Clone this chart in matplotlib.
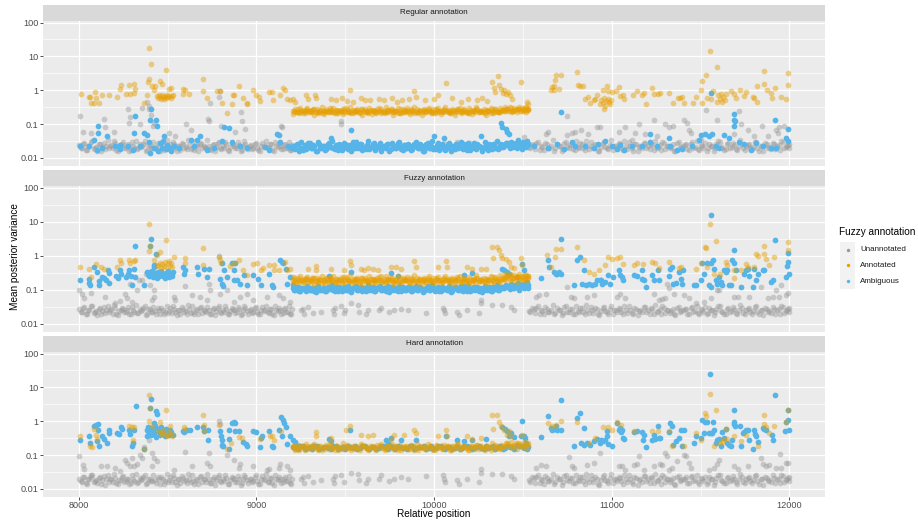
import matplotlib.pyplot as plt
from matplotlib.patches import Rectangle
from matplotlib.ticker import FixedLocator, NullFormatter

plt.rcParams['font.family'] = ['Liberation Sans', 'DejaVu Sans']

# --- sites shared by the three facets ---
left_sites = [8003, 8018, 8031, 8047, 8060, 8076, 8089, 8104, 8118, 8133,
              8146, 8162, 8177, 8190, 8206, 8219, 8235, 8248, 8263, 8277,
              8292, 8305, 8321, 8334, 8350, 8363, 8378, 8392, 8407, 8420,
              8436, 8449, 8465, 8478, 8494, 8507, 8522, 8536, 8551, 8564,
              8580, 8593, 8609, 8622, 8638, 8651, 8666, 8680, 8695, 8708,
              8724, 8737, 8753, 8766, 8781, 8795, 8810, 8823, 8839, 8852,
              8868, 8881, 8896, 8910, 8925, 8938, 8954, 8967, 8983, 8996,
              9011, 9025, 9040, 9053, 9069, 9082, 9097, 9111, 9126, 9139,
              9155, 9168, 9184, 9197]
left_sites_b = [8010, 8025, 8039, 8054, 8068, 8083, 8097, 8111, 8125, 8140,
                8154, 8169, 8183, 8198, 8212, 8227, 8241, 8256, 8270, 8285,
                8298, 8313, 8327, 8342, 8356, 8371, 8385, 8400, 8414, 8428,
                8443, 8457, 8471, 8486, 8500, 8515, 8529, 8544, 8558, 8572,
                8587, 8601, 8615, 8630, 8644, 8659, 8673, 8688, 8702, 8716,
                8730, 8745, 8759, 8774, 8788, 8803, 8817, 8831, 8846, 8860,
                8874, 8889, 8903, 8918, 8932, 8946, 8961, 8975, 8990, 9004,
                9018, 9033, 9047, 9062, 9076, 9090, 9104, 9119, 9133, 9148,
                9162, 9176, 9191, 9200]
mid_sites = [9206, 9219, 9233, 9245, 9259, 9273, 9286, 9299, 9313, 9326,
             9340, 9353, 9366, 9380, 9393, 9407, 9420, 9433, 9447, 9460,
             9474, 9487, 9500, 9514, 9527, 9541, 9554, 9567, 9581, 9594,
             9608, 9621, 9634, 9648, 9661, 9675, 9688, 9701, 9715, 9728,
             9742, 9755, 9768, 9782, 9795, 9809, 9822, 9835, 9849, 9862,
             9876, 9889, 9902, 9916, 9929, 9943, 9956, 9969, 9983, 9996,
             10010, 10023, 10036, 10050, 10063, 10077, 10090, 10103, 10117, 10130,
             10144, 10157, 10170, 10184, 10197, 10211, 10224, 10237, 10251, 10264,
             10278, 10291, 10304, 10318, 10331, 10345, 10358, 10371, 10385, 10398,
             10412, 10425, 10438, 10452, 10465, 10479, 10492, 10505, 10519, 10530]
mid_sites_b = [9212, 9226, 9239, 9252, 9266, 9279, 9292, 9306, 9319, 9333,
               9346, 9360, 9373, 9386, 9400, 9413, 9427, 9440, 9453, 9467,
               9480, 9494, 9507, 9520, 9534, 9547, 9561, 9574, 9587, 9601,
               9614, 9628, 9641, 9654, 9668, 9681, 9695, 9708, 9721, 9735,
               9748, 9762, 9775, 9788, 9802, 9815, 9829, 9842, 9855, 9869,
               9882, 9896, 9909, 9922, 9936, 9949, 9963, 9976, 9989, 10003,
               10016, 10030, 10043, 10056, 10070, 10083, 10097, 10110, 10123, 10137,
               10150, 10164, 10177, 10190, 10204, 10217, 10231, 10244, 10257, 10271,
               10284, 10298, 10311, 10324, 10338, 10351, 10365, 10378, 10391, 10405,
               10418, 10432, 10445, 10458, 10472, 10485, 10499, 10512, 10524, 10527]
right_sites = [10535, 10549, 10570, 10583, 10603, 10616, 10636, 10649, 10668, 10682,
               10701, 10718, 10731, 10750, 10764, 10784, 10797, 10817, 10830, 10849,
               10863, 10883, 10896, 10915, 10929, 10949, 10962, 10981, 10995, 11015,
               11028, 11047, 11061, 11081, 11094, 11113, 11127, 11147, 11160, 11179,
               11193, 11213, 11226, 11245, 11259, 11279, 11292, 11311, 11325, 11345,
               11358, 11377, 11391, 11411, 11424, 11443, 11457, 11477, 11490, 11509,
               11523, 11543, 11556, 11575, 11589, 11609, 11622, 11641, 11655, 11675,
               11688, 11707, 11721, 11741, 11754, 11773, 11787, 11807, 11820, 11839,
               11853, 11873, 11886, 11905, 11919, 11939, 11952, 11971, 11985, 11998]
right_sites_b = [10542, 10560, 10576, 10593, 10609, 10626, 10642, 10659, 10675, 10692,
                 10709, 10725, 10741, 10757, 10774, 10790, 10807, 10823, 10840, 10856,
                 10873, 10889, 10906, 10922, 10939, 10955, 10972, 10988, 11005, 11021,
                 11038, 11054, 11071, 11087, 11104, 11120, 11137, 11153, 11170, 11186,
                 11203, 11219, 11236, 11252, 11269, 11285, 11302, 11318, 11335, 11351,
                 11368, 11384, 11401, 11417, 11434, 11450, 11467, 11483, 11500, 11516,
                 11533, 11549, 11566, 11582, 11599, 11615, 11632, 11648, 11665, 11681,
                 11698, 11714, 11731, 11747, 11764, 11780, 11797, 11813, 11830, 11846,
                 11863, 11879, 11896, 11912, 11929, 11945, 11962, 11978, 11992, 11996]

# --- Regular annotation ---
reg_unann_left = [.024, .019, .028, .017, .022, .031, .02, .016, .026, .021,
                  .018, .034, .023, .019, .027, .016, .022, .029, .02, .025,
                  .017, .023, .032, .019, .021, .026, .016, .024, .02, .03,
                  .018, .022, .027, .017, .035, .021, .019, .025, .016, .023,
                  .028, .02, .018, .024, .031, .017, .022, .026, .019, .021,
                  .033, .018, .024, .016, .027, .02, .023, .029, .017, .021,
                  .025, .019, .03, .016, .022, .026, .018, .024, .02, .028,
                  .017, .023, .021, .032, .019, .025, .016, .022, .027, .018,
                  .024, .02, .029, .017]
reg_unann_left_b = [.02, .026, .017, .023, .03, .018, .021, .025, .016, .028,
                    .022, .019, .024, .032, .017, .021, .026, .019, .023, .016,
                    .029, .02, .018, .025, .022, .031, .017, .024, .019, .021,
                    .027, .016, .023, .02, .018, .026, .03, .019, .022, .017,
                    .025, .021, .033, .018, .02, .024, .016, .028, .022, .019,
                    .023, .017, .026, .021, .03, .018, .02, .025, .016, .027,
                    .022, .019, .024, .017, .031, .021, .023, .018, .026, .02,
                    .016, .028, .022, .019, .025, .017, .03, .021, .023, .018,
                    .026, .02, .017, .024]
reg_unann_right = [.021, .026, .018, .03, .022, .017, .025, .02, .033, .019,
                   .023, .016, .028, .021, .024, .018, .031, .02, .026, .017,
                   .022, .029, .019, .024, .016, .027, .021, .018, .034, .023,
                   .02, .025, .017, .022, .03, .019, .026, .016, .023, .028,
                   .02, .018, .024, .032, .021, .017, .027, .022, .019, .025,
                   .016, .029, .021, .024, .018, .026, .02, .031, .017, .023,
                   .028, .019, .022, .016, .025, .03, .02, .018, .027, .021,
                   .024, .017, .033, .019, .022, .026, .018, .029, .02, .023,
                   .016, .025, .021, .028, .018, .024, .031, .019, .022, .026]
reg_unann_right_b = [.019, .024, .027, .017, .021, .028, .02, .023, .016, .026,
                     .022, .018, .03, .019, .025, .017, .021, .027, .02, .032,
                     .018, .023, .026, .016, .021, .029, .019, .024, .017, .022,
                     .027, .02, .031, .018, .023, .016, .025, .021, .019, .028,
                     .022, .026, .017, .02, .024, .03, .018, .023, .021, .016,
                     .027, .019, .022, .025, .017, .029, .021, .018, .024, .02,
                     .016, .026, .023, .019, .031, .021, .017, .025, .02, .028,
                     .018, .022, .026, .017, .024, .019, .021, .03, .016, .023,
                     .027, .02, .018, .025, .022, .017, .029, .021, .024, .019]
reg_amb_mid = [.022, .018, .026, .02, .017, .024, .021, .028, .019, .023,
               .016, .025, .02, .022, .018, .027, .021, .019, .024, .017,
               .023, .02, .026, .018, .022, .03, .019, .021, .025, .017,
               .02, .024, .018, .022, .027, .019, .021, .016, .023, .02,
               .025, .018, .022, .019, .028, .021, .017, .024, .02, .023,
               .018, .026, .021, .019, .022, .016, .025, .02, .023, .018,
               .021, .027, .019, .022, .017, .024, .02, .023, .018, .026,
               .021, .019, .025, .017, .022, .02, .028, .018, .023, .021,
               .019, .024, .017, .022, .026, .02, .018, .023, .021, .025,
               .027, .019, .022, .024, .02, .026, .018, .023, .021, .025]
reg_amb_mid_b = [.019, .025, .016, .029, .021, .018, .027, .02, .024, .016,
                 .03, .019, .023, .017, .026, .021, .032, .018, .022, .025,
                 .017, .028, .02, .024, .016, .022, .029, .019, .025, .021,
                 .018, .031, .02, .026, .017, .023, .028, .019, .021, .025,
                 .016, .027, .022, .019, .03, .018, .024, .02, .026, .017,
                 .022, .029, .019, .025, .016, .021, .027, .02, .032, .018,
                 .024, .017, .026, .021, .019, .028, .016, .023, .025, .02,
                 .03, .018, .022, .027, .017, .024, .019, .026, .021, .016,
                 .029, .02, .025, .018, .023, .031, .019, .026, .022, .028,
                 .024, .03, .021, .027, .033, .023, .029, .025, .031, .026]
reg_ann_mid = [.24, .22, .27, .23, .25, .21, .26, .24, .22, .28,
               .23, .25, .21, .24, .27, .22, .25, .23, .26, .21,
               .24, .28, .22, .25, .23, .26, .22, .24, .21, .27,
               .25, .23, .22, .26, .24, .21, .25, .28, .23, .22,
               .26, .24, .22, .25, .21, .27, .23, .24, .26, .22,
               .25, .21, .28, .24, .23, .26, .22, .25, .24, .21,
               .27, .23, .25, .22, .24, .26, .21, .25, .23, .28,
               .22, .24, .26, .23, .21, .25, .24, .27, .22, .25,
               .23, .26, .24, .21, .25, .27, .23, .22, .26, .24,
               .28, .25, .23, .26, .22, .27, .24, .25, .23, .26]
reg_ann_mid_b = [.25, .23, .21, .26, .24, .28, .22, .25, .27, .23,
                 .21, .26, .24, .22, .25, .29, .23, .21, .26, .24,
                 .22, .25, .27, .23, .21, .24, .26, .22, .28, .25,
                 .23, .21, .26, .24, .22, .27, .25, .23, .21, .26,
                 .24, .28, .22, .25, .23, .21, .26, .24, .22, .27,
                 .25, .23, .21, .26, .24, .22, .28, .25, .23, .21,
                 .26, .24, .22, .27, .25, .23, .21, .26, .24, .28,
                 .22, .25, .23, .21, .26, .24, .22, .27, .25, .23,
                 .21, .26, .24, .28, .22, .25, .23, .26, .24, .27,
                 .25, .29, .24, .26, .28, .25, .27, .3, .26, .28]
reg_ann_mid_c = [.2, .27, .23, .3, .21, .25, .29, .22, .26, .19,
                 .28, .23, .31, .2, .25, .22, .27, .3, .21, .24,
                 .26, .2, .29, .23, .32, .21, .25, .28, .22, .19,
                 .27, .24, .3, .2, .26, .23, .29, .21, .25, .31,
                 .22, .28, .19, .24, .3, .21, .27, .23, .29, .2,
                 .26, .32, .22, .25, .19, .28, .24, .3, .21, .27,
                 .23, .29, .2, .26, .31, .22, .25, .28, .19, .24,
                 .3, .21, .27, .23, .29, .2, .26, .32, .22, .25,
                 .28, .19, .24, .3, .21, .27, .23, .29, .26, .31,
                 .28, .33, .25, .3, .27, .32, .29, .26, .31, .28]
reg_unann_extra = [
    (8004, .17), (8024, .06), (8066, .055), (8141, .14), (8145, .08), (8197, .06),
    (8277, .28), (8281, .11), (8290, .16), (8346, .1), (8356, .3), (8384, .46),
    (8393, .35), (8397, .27), (8408, .19), (8421, .11), (8417, .09), (8509, .054),
    (8540, .045), (8603, .1), (8632, .067), (8728, .14), (8732, .12), (8736, .41),
    (8788, .62), (8794, .95), (8803, .085), (8878, .06), (8915, .23), (8918, .12),
    (8933, .07), (9136, .085), (9143, .08),
    (9300, .025), (9476, .12), (9476, .1), (9560, .03), (9800, .028), (10056, .027),
    (10131, .03), (10200, .027), (10337, .025), (10356, .022), (10375, .021),
    (10506, .042), (10630, .05), (10643, .06), (10749, .17), (10745, .047), (10775, .054),
    (10793, .06), (10827, .067), (10868, .05), (10915, .08),
    (10934, .084), (11038, .06), (11075, .08), (11113, .034), (11132, .055), (11151, .1),
    (11189, .052), (11236, .13), (11255, .045), (11302, .1), (11321, .08), (11347, .09),
    (11406, .13), (11421, .11), (11434, .068), (11443, .054), (11500, .034), (11528, .26),
    (11594, .13), (11689, .05), (11717, .25), (11727, .1), (11764, .066), (11802, .043),
    (11845, .087), (11877, .043), (11924, .065), (11934, .054), (11943, .08), (11972, .085),
]
reg_ann_extra = [
    (8013, .78), (8056, .65), (8062, .62), (8090, .9), (8097, .6), (8066, .42),
    (8084, .41), (8112, .42), (8131, .73), (8169, .73), (8215, .64), (8234, 1.07),
    (8240, 1.4), (8268, .8), (8290, .8), (8309, .82), (8281, 1.4), (8309, 1.5),
    (8318, 1.1), (8365, .42), (8393, 18), (8406, 5.8), (8395, 2.2), (8389, 1.7),
    (8384, .7), (8412, 1.3), (8421, 1.0), (8431, 1.35), (8455, 1.85), (8468, 1.5),
    (8491, 3.9), (8506, 1.1), (8519, 1.15), (8586, 1.1), (8599, 1.05), (8586, .8),
    (8618, .78), (8699, 2.1), (8699, .95), (8721, .6), (8780, .97), (8793, .97),
    (8805, .42), (8833, .21), (8861, .38), (8866, .7), (8871, .73), (8901, 1.3),
    (8922, .6), (8944, .41), (8948, .39), (8978, 1.0), (8999, .73), (9012, .65),
    (9021, .47), (9073, .9), (9086, .88), (9091, .5), (9133, .73), (9148, 1.2),
    (9161, 1.0), (9174, .55), (9189, .52), (9208, .55), (9217, .45),
    (8440, .68), (8446, .6), (8452, .72), (8459, .64), (8463, .57), (8470, .7),
    (8476, .62), (8481, .55), (8487, .66), (8493, .6), (8498, .74), (8504, .63),
    (8510, .68), (8516, .58), (8523, .66), (8528, .7),
    (9280, .7), (9289, .55), (9330, .72), (9336, .58), (9417, .55), (9447, .5),
    (9480, .6), (9510, .48), (9528, 1.0), (9545, .45), (9590, .6), (9610, .52),
    (9640, .5), (9690, .55), (9720, .5), (9760, .6), (9790, .45), (9820, .5),
    (9860, .55), (9888, .97), (9900, .62), (9950, .5), (10000, .55), (10020, .7),
    (10069, 1.6), (10100, .6), (10150, .45), (10190, .55), (10240, .5), (10270, .6),
    (10300, .48), (10328, 1.7), (10335, 1.2), (10345, .9), (10360, 2.6), (10365, 1.4),
    (10375, 1.1), (10385, .85), (10395, 1.0), (10405, .8), (10415, .9), (10425, .7),
    (10440, .55), (10491, 1.7), (10525, .45), (10530, .38),
    (10656, 1.0), (10666, 1.25), (10672, 1.3), (10678, 2.0), (10686, 2.8), (10675, 1.05),
    (10700, 1.1), (10716, 2.9), (10805, 3.5), (10808, 1.4), (10823, 1.35), (10838, 1.35),
    (10851, .55), (10864, .65), (10880, .42), (10898, .52), (10907, .55), (10917, .7),
    (10932, .4), (10953, 1.05), (10972, 1.3), (10981, .95), (11000, .9), (11025, .97),
    (10940, .5), (10950, .42), (10957, .6), (10963, .35), (10970, .48), (10976, .55),
    (10985, .45), (10992, .38), (10997, .52), (10957, .28),
    (11038, 1.25), (11047, .68), (11062, .7), (11066, .55), (11119, .72), (11142, .95),
    (11170, .72), (11179, .82), (11195, .4), (11226, 1.2), (11236, .8), (11258, .75),
    (11270, .82), (11321, .85), (11345, .42), (11372, .6), (11383, .58), (11394, .64),
    (11406, .41), (11458, .42), (11472, .64), (11500, 1.0), (11509, 1.9), (11528, 2.8),
    (11553, 14.5), (11590, 4.7), (11509, .42), (11538, .6), (11557, .57), (11572, .95),
    (11590, .45), (11600, .7), (11608, .55), (11615, .8), (11622, .45), (11628, .62),
    (11636, .5), (11645, .75), (11670, .98), (11689, .8), (11698, .58), (11722, 1.0),
    (11745, .68), (11758, .87), (11792, .65), (11802, .6), (11820, .45), (11816, 1.3),
    (11856, 3.7), (11858, 1.55), (11872, 1.0), (11896, .85), (11900, .6), (11919, 1.2),
    (11953, .65), (11989, 3.2), (11989, 1.4), (11980, .55),
]
reg_amb_extra = [
    (8006, .023), (8056, .022), (8103, .017), (8084, .034), (8109, .085), (8109, .056),
    (8131, .019), (8159, .045), (8206, .023), (8230, .024), (8234, .018), (8277, .023),
    (8303, .017), (8309, .054), (8318, .17), (8343, .022), (8365, .054), (8384, .048),
    (8393, .03), (8403, .014), (8408, .28), (8403, .133), (8437, .13), (8440, .085),
    (8425, .02), (8446, .016), (8455, .027), (8466, .019), (8474, .031), (8481, .045),
    (8489, .018), (8497, .024), (8510, .02), (8520, .016), (8536, .022), (8564, .019),
    (8630, .035), (8648, .023), (8663, .035), (8684, .043), (8721, .017), (8759, .019),
    (8806, .031), (8819, .08), (8843, .075), (8861, .03), (8908, .022), (8946, .019),
    (9049, .021), (9068, .017), (9114, .05), (9124, .048), (9133, .03), (9180, .022),
    (9199, .019),
    (9532, .067), (9420, .04), (10000, .043), (10056, .038), (10262, .043), (10375, .106),
    (10384, .084), (10403, .07), (10412, .06), (10422, .05), (10440, .028),
    (10562, .022), (10640, .02), (10690, .025), (10715, .22), (10730, .018), (10775, .03),
    (10795, .023), (10850, .022), (10900, .02), (10925, .025), (10962, .032), (11000, .022),
    (11028, .018), (11047, .024), (11066, .017), (11113, .022), (11170, .022), (11217, .05),
    (11217, .03), (11255, .022), (11321, .038), (11330, .022), (11368, .017), (11396, .018),
    (11453, .022), (11491, .035), (11500, .048), (11524, .052), (11549, .043), (11557, .85),
    (11564, .052), (11585, .023), (11604, .019), (11632, .046), (11660, .038), (11685, .2),
    (11685, .13), (11694, .12), (11689, .085), (11717, .03), (11745, .025), (11783, .017),
    (11811, .027), (11849, .022), (11896, .019), (11919, .13), (11925, .02), (11981, .04),
    (11990, .07), (11992, .032),
]

# --- Fuzzy annotation ---
fuz_unann_left = [.027, .022, .031, .019, .025, .034, .023, .018, .029, .024,
                  .021, .033, .026, .02, .03, .018, .025, .028, .022, .032,
                  .019, .026, .035, .021, .024, .029, .018, .027, .023, .031,
                  .02, .025, .03, .019, .033, .024, .021, .028, .018, .026,
                  .031, .022, .02, .027, .034, .019, .025, .029, .021, .024,
                  .032, .02, .027, .018, .03, .023, .026, .033, .019, .024,
                  .028, .021, .031, .018, .025, .029, .02, .027, .023, .032,
                  .019, .026, .024, .034, .021, .028, .018, .025, .03, .02,
                  .027, .022, .033, .019]
fuz_unann_left_b = [.023, .03, .02, .026, .033, .021, .024, .028, .019, .031,
                    .025, .022, .027, .035, .02, .024, .029, .022, .026, .019,
                    .032, .023, .021, .028, .025, .034, .02, .027, .022, .024,
                    .03, .019, .026, .023, .021, .029, .033, .022, .025, .02,
                    .028, .024, .035, .021, .023, .027, .019, .031, .025, .022,
                    .026, .02, .029, .024, .033, .021, .023, .028, .019, .03,
                    .025, .022, .027, .02, .034, .024, .026, .021, .029, .023,
                    .019, .031, .025, .022, .028, .02, .033, .024, .026, .021,
                    .029, .023, .02, .027]
fuz_unann_right = [.024, .029, .021, .033, .025, .019, .028, .022, .035, .021,
                   .026, .018, .031, .023, .027, .02, .034, .022, .029, .019,
                   .025, .032, .021, .027, .018, .03, .024, .02, .033, .026,
                   .022, .028, .019, .025, .033, .021, .029, .018, .026, .031,
                   .023, .02, .027, .035, .024, .019, .03, .025, .021, .028,
                   .018, .032, .024, .027, .02, .029, .022, .034, .019, .026,
                   .031, .021, .025, .018, .028, .033, .022, .02, .03, .024,
                   .027, .019, .035, .021, .025, .029, .02, .032, .022, .026,
                   .018, .028, .024, .031, .02, .027, .034, .021, .025, .029]
fuz_unann_right_b = [.022, .027, .03, .02, .024, .031, .023, .026, .019, .029,
                     .025, .021, .033, .022, .028, .02, .024, .03, .023, .035,
                     .021, .026, .029, .019, .024, .032, .022, .027, .02, .025,
                     .03, .023, .034, .021, .026, .019, .028, .024, .022, .031,
                     .025, .029, .02, .023, .027, .033, .021, .026, .024, .019,
                     .03, .022, .025, .028, .02, .032, .024, .021, .027, .023,
                     .019, .029, .026, .022, .034, .024, .02, .028, .023, .031,
                     .021, .025, .029, .02, .027, .022, .024, .033, .019, .026,
                     .03, .023, .021, .028, .025, .02, .032, .024, .027, .022]
fuz_ann_mid = [.19, .17, .22, .18, .2, .16, .21, .19, .17, .23,
               .18, .2, .16, .19, .22, .17, .2, .18, .21, .16,
               .19, .24, .17, .2, .18, .21, .17, .19, .16, .22,
               .2, .18, .17, .21, .19, .16, .2, .25, .18, .17,
               .21, .19, .17, .2, .16, .22, .18, .19, .21, .17,
               .2, .16, .23, .19, .18, .21, .17, .2, .19, .16,
               .22, .18, .2, .17, .19, .21, .16, .2, .18, .24,
               .17, .19, .21, .18, .16, .2, .19, .22, .17, .2,
               .18, .21, .19, .16, .2, .23, .18, .17, .21, .19,
               .25, .2, .18, .22, .17, .23, .19, .21, .18, .22]
fuz_ann_mid_b = [.2, .18, .16, .21, .19, .23, .17, .2, .22, .18,
                 .16, .21, .19, .17, .2, .24, .18, .16, .21, .19,
                 .17, .2, .22, .18, .16, .19, .21, .17, .23, .2,
                 .18, .16, .21, .19, .17, .22, .2, .18, .16, .21,
                 .19, .23, .17, .2, .18, .16, .21, .19, .17, .22,
                 .2, .18, .16, .21, .19, .17, .23, .2, .18, .16,
                 .21, .19, .17, .22, .2, .18, .16, .21, .19, .23,
                 .17, .2, .18, .16, .21, .19, .17, .22, .2, .18,
                 .16, .21, .19, .24, .17, .2, .18, .22, .21, .25,
                 .23, .27, .22, .24, .26, .21, .25, .28, .22, .26]
fuz_ann_mid_c = [.16, .22, .19, .25, .17, .21, .24, .18, .22, .15,
                 .23, .19, .26, .16, .21, .18, .23, .25, .17, .2,
                 .22, .16, .24, .19, .27, .17, .21, .23, .18, .15,
                 .22, .2, .25, .16, .21, .19, .24, .17, .21, .26,
                 .18, .23, .15, .2, .25, .17, .22, .19, .24, .16,
                 .21, .27, .18, .21, .15, .23, .2, .25, .17, .22,
                 .19, .24, .16, .21, .26, .18, .21, .23, .15, .2,
                 .25, .17, .22, .19, .24, .16, .21, .27, .18, .21,
                 .23, .16, .2, .26, .18, .24, .21, .27, .23, .29,
                 .25, .3, .22, .27, .24, .29, .26, .23, .28, .25]
fuz_amb_mid = [.11, .1, .12, .095, .115, .105, .13, .1, .11, .09,
               .12, .105, .1, .115, .095, .125, .11, .1, .12, .09,
               .105, .115, .1, .13, .095, .11, .12, .1, .105, .09,
               .115, .1, .125, .11, .095, .105, .12, .1, .11, .09,
               .13, .105, .1, .115, .095, .11, .12, .1, .105, .125,
               .09, .11, .1, .12, .105, .095, .115, .1, .13, .11,
               .1, .12, .095, .105, .115, .1, .11, .09, .12, .105,
               .1, .115, .13, .095, .11, .1, .12, .105, .09, .115,
               .1, .125, .11, .095, .12, .105, .1, .115, .11, .13,
               .12, .105, .14, .11, .125, .1, .13, .115, .12, .11]
fuz_amb_mid_b = [.1, .12, .09, .115, .105, .095, .125, .1, .11, .088,
                 .13, .1, .115, .092, .12, .105, .135, .095, .11, .12,
                 .09, .125, .1, .115, .088, .11, .13, .098, .12, .105,
                 .095, .135, .1, .118, .09, .112, .128, .1, .108, .12,
                 .088, .125, .11, .098, .13, .094, .116, .1, .122, .09,
                 .11, .13, .097, .12, .088, .106, .126, .1, .138, .095,
                 .115, .09, .122, .106, .098, .128, .088, .112, .12, .1,
                 .132, .094, .11, .126, .09, .116, .098, .122, .108, .088,
                 .13, .1, .118, .094, .112, .135, .1, .124, .11, .14,
                 .12, .145, .115, .135, .16, .125, .15, .13, .17, .14]
fuz_unann_extra = [
    (8000, .1), (8019, .078), (8028, .057), (8066, .08), (8150, .062), (8206, .04),
    (8234, .047), (8262, .078), (8290, .15), (8272, .057), (8300, .045), (8328, .1),
    (8337, .2), (8356, .19), (8380, .3), (8403, .14), (8421, .1), (8412, .05),
    (8421, .062), (8534, .062), (8543, .052), (8596, .13), (8637, .07), (8684, .062),
    (8721, .05), (8730, .15), (8736, .1), (8787, .98), (8796, .078), (8833, .1),
    (8871, .045), (8908, .062), (8946, .078), (8983, .05), (9058, .062), (9124, .07),
    (9152, .057), (9189, .045),
    (9251, .025), (9270, .02), (9288, .032), (9316, .021), (9363, .023), (9429, .025),
    (9438, .02), (9476, .033), (9494, .021), (9532, .04), (9573, .036), (9579, .023),
    (9616, .02), (9625, .025), (9691, .025), (9747, .023), (9775, .025), (9813, .028),
    (9850, .025), (9953, .021), (10056, .025), (10060, .021), (10131, .023), (10140, .018),
    (10187, .025), (10253, .021), (10262, .05), (10262, .04), (10328, .036), (10384, .036),
    (10431, .032), (10450, .025), (9260, .028), (9440, .03), (9500, .026), (9700, .03),
    (10050, .03),
    (10571, .062), (10590, .07), (10628, .078), (10749, .12), (10768, .062), (10787, .057),
    (10862, .062), (10899, .07), (11028, .062), (11047, .078), (11075, .057), (11236, .078),
    (11264, .05), (11283, .055), (11302, .057), (11311, .15), (11321, .11), (11349, .078),
    (11406, .07), (11434, .057), (11472, .04), (11519, .045), (11557, .057), (11594, .1),
    (11604, .098), (11689, .062), (11708, .062), (11774, .062), (11840, .12), (11877, .057),
    (11906, .062), (11925, .1), (11943, .062), (11953, .14), (11981, .07), (11991, .08),
]
fuz_ann_extra = [
    (8009, .46), (8056, .42), (8066, .24), (8094, .56), (8122, .47), (8144, .4),
    (8215, .47), (8234, .75), (8238, .6), (8281, .78), (8287, .6), (8309, .72),
    (8318, .78), (8393, 8.9), (8393, 1.35), (8399, 1.9), (8421, .75), (8440, 1.05),
    (8455, 1.3), (8491, 2.9),
    (8440, .55), (8448, .5), (8455, .62), (8462, .45), (8470, .58), (8478, .5),
    (8485, .65), (8492, .48), (8500, .6), (8506, .7), (8512, .52), (8518, .6),
    (8525, .47), (8534, .9), (8596, .85), (8599, .6), (8697, 1.7), (8699, .55),
    (8787, .93), (8796, .75), (8800, .62), (8852, .5), (8871, .62), (8899, .75),
    (8923, .39), (8946, .27), (8978, .58), (9002, .6), (9026, .38), (9036, .45),
    (9073, .53), (9096, .53), (9096, .38), (9124, .38), (9161, .66), (9171, .38),
    (9189, .4), (9208, .24),
    (9288, .42), (9335, .5), (9335, .38), (9419, .42), (9494, .38), (9528, .72),
    (9532, .53), (9588, .42), (9607, .38), (9625, .45), (9654, .4), (9682, .38),
    (9757, .47), (9785, .47), (9813, .42), (9888, .72), (9897, .47), (10019, .47),
    (10069, .72), (10075, .47), (10187, .47), (10215, .4), (10262, .42), (10290, .4),
    (10324, 1.85), (10333, .85), (10356, 1.85), (10365, 1.45), (10375, 1.05), (10384, .85),
    (10403, .8), (10422, .68), (10431, .47), (10450, .45), (10487, .85), (10496, .53),
    (10637, 1.05), (10678, .9), (10684, 1.6), (10715, 1.55), (10658, .47), (10805, 1.85),
    (10843, .78), (10871, .33), (10899, .3), (10927, .38),
    (10962, .53), (10981, .93), (11000, .8), (11028, .85), (11047, .9), (11062, .56),
    (11123, .53), (11142, .6), (11175, .56), (11226, .66), (11245, .6), (11264, .45),
    (11321, .66), (11377, .45), (11387, .47), (11472, .42), (11500, .6), (11523, 1.85),
    (11528, 1.65), (11553, 8.6), (11585, 2.7), (11538, .47), (11575, .3), (11609, .29),
    (11642, .66), (11651, .53), (11685, .23), (11689, .38), (11726, .38), (11755, .56),
    (11764, .47), (11802, .47), (11811, 1.1), (11821, 1.0), (11855, 2.0), (11858, 1.1),
    (11868, .8), (11887, .53), (11915, .93), (11991, 2.6), (11991, 1.5),
]
fuz_amb_extra = [
    (8009, .19), (8056, .21), (8056, .16), (8062, .14), (8084, .46), (8103, .34),
    (8112, .18), (8112, .14), (8131, .24), (8144, .23), (8155, .19), (8169, .31),
    (8169, .16), (8163, .38), (8212, .25), (8219, .23), (8234, .38), (8238, .3),
    (8268, .24), (8277, .29), (8285, .38), (8294, .25), (8300, .14), (8315, 1.9),
    (8309, .4), (8318, .24), (8365, .14), (8384, .34), (8393, .27), (8403, 1.9),
    (8408, 3.1), (8436, 1.17), (8421, .47), (8425, .53),
    (8388, .3), (8395, .25), (8401, .33), (8407, .27), (8413, .36), (8419, .24),
    (8426, .31), (8432, .28), (8438, .22), (8445, .34), (8451, .26), (8458, .3),
    (8464, .37), (8471, .25), (8477, .29), (8484, .23), (8490, .32), (8497, .27),
    (8503, .35), (8510, .24), (8516, .3), (8523, .26), (8530, .33),
    (8586, .47), (8599, .38), (8594, .3), (8665, .47), (8671, .3), (8702, .4),
    (8721, .24), (8730, .4), (8792, .21), (8805, .15), (8811, .13), (8805, .6),
    (8815, .38), (8833, .24), (8862, .6), (8880, .6), (8871, .38), (8893, .19),
    (8871, .19), (8908, .15), (8946, .14), (8927, .27), (8980, .27), (9011, .21),
    (9026, .14), (9068, .3), (9086, .14), (9092, .12), (9133, .75), (9143, .66),
    (9152, .6), (9167, .42), (9171, .15), (9189, .24), (9208, .14), (9218, .12),
    (9236, .1),
    (9410, .25), (9532, .33), (9757, .31), (9794, .25), (10169, .27), (10215, .31),
    (10384, .4), (10394, .38), (10412, .34), (10422, .3), (10468, .24), (10496, .57),
    (10506, .38), (10525, .12),
    (10603, .22), (10643, .77), (10646, .47), (10675, .34), (10684, .3), (10693, .29),
    (10703, .34), (10712, .3), (10715, 3.2), (10787, .14), (10805, .77), (10820, .93),
    (10843, .38), (10834, .15), (10852, .14), (10871, .15), (10890, .14), (10908, .15),
    (10918, .19), (10937, .19),
    (10934, .19), (10943, .15), (10962, .17), (10981, .27), (10991, .15), (11009, .24),
    (11038, .38), (11047, .27), (11057, .24), (11062, .19), (11123, .27), (11142, .25),
    (11170, .38), (11170, .21), (11179, .19), (11194, .12), (11226, .27), (11236, .19),
    (11258, .38), (11264, .19), (11321, .25), (11330, .42), (11336, .47), (11345, .15),
    (11359, .16), (11381, .34), (11387, .21), (11396, .15), (11402, .38), (11462, .14),
    (11472, .14), (11500, .19), (11509, .62), (11519, .3), (11534, .62), (11547, .14),
    (11557, 16.4), (11557, .62), (11572, .78), (11575, .42), (11557, .12), (11585, .19),
    (11594, .15), (11604, .24), (11613, .17), (11623, .14), (11632, .38), (11642, .34),
    (11651, .38), (11660, .14), (11670, .14), (11679, .75), (11685, 1.47), (11689, .6),
    (11698, .38), (11727, .12), (11745, .29), (11755, .38), (11764, .42), (11774, .25),
    (11793, .12), (11802, .42), (11811, .19), (11821, .29), (11849, .38), (11858, .38),
    (11896, .17), (11906, .19), (11919, 2.9), (11981, .24), (11987, .5), (11991, .66),
    (12000, .3), (11991, 1.2),
]

# --- Hard annotation ---
hard_unann_left = [.019, .016, .023, .014, .02, .026, .017, .015, .022, .018,
                   .013, .025, .019, .016, .021, .014, .018, .024, .017, .02,
                   .015, .019, .027, .016, .018, .022, .014, .02, .017, .025,
                   .015, .019, .023, .014, .028, .018, .016, .021, .013, .019,
                   .024, .017, .015, .02, .026, .014, .018, .022, .016, .019,
                   .027, .015, .02, .013, .023, .017, .019, .025, .014, .018,
                   .021, .016, .024, .013, .019, .022, .015, .02, .017, .026,
                   .014, .019, .018, .027, .016, .021, .013, .019, .023, .015,
                   .02, .017, .024, .014]
hard_unann_left_b = [.017, .022, .015, .019, .025, .016, .018, .021, .014, .024,
                     .019, .016, .02, .027, .015, .018, .022, .016, .02, .014,
                     .025, .017, .015, .021, .019, .026, .015, .02, .017, .018,
                     .023, .014, .02, .017, .016, .022, .025, .016, .019, .015,
                     .021, .018, .027, .016, .017, .02, .014, .024, .019, .016,
                     .02, .015, .022, .018, .025, .016, .017, .021, .014, .023,
                     .019, .016, .02, .015, .026, .018, .02, .016, .022, .017,
                     .014, .024, .019, .016, .021, .015, .025, .018, .02, .016,
                     .022, .017, .015, .02]
hard_unann_right = [.018, .022, .015, .025, .019, .014, .021, .017, .027, .016,
                    .02, .013, .024, .018, .021, .015, .026, .017, .022, .014,
                    .019, .025, .016, .02, .013, .023, .018, .015, .028, .019,
                    .017, .021, .014, .019, .025, .016, .022, .013, .02, .024,
                    .017, .015, .021, .027, .018, .014, .023, .019, .016, .021,
                    .013, .024, .018, .02, .015, .022, .017, .026, .014, .019,
                    .023, .016, .019, .013, .021, .025, .017, .015, .022, .018,
                    .02, .014, .027, .016, .019, .022, .015, .024, .017, .02,
                    .013, .021, .018, .025, .015, .02, .026, .016, .019, .022]
hard_unann_right_b = [.016, .021, .023, .015, .018, .024, .017, .02, .014, .022,
                      .019, .016, .025, .017, .021, .015, .018, .023, .017, .027,
                      .016, .02, .022, .014, .018, .025, .017, .021, .015, .019,
                      .023, .017, .026, .016, .02, .014, .021, .018, .016, .024,
                      .019, .022, .015, .017, .021, .025, .016, .02, .018, .014,
                      .023, .017, .019, .022, .015, .024, .018, .016, .021, .017,
                      .014, .022, .02, .016, .026, .018, .015, .021, .017, .024,
                      .016, .019, .022, .015, .021, .017, .018, .025, .014, .02,
                      .023, .017, .016, .021, .019, .015, .024, .018, .021, .017]
hard_ann_mid = [.17, .15, .2, .16, .18, .14, .19, .17, .15, .21,
                .16, .18, .14, .17, .2, .15, .18, .16, .19, .14,
                .17, .22, .15, .18, .16, .19, .15, .17, .14, .2,
                .18, .16, .15, .19, .17, .14, .18, .21, .16, .15,
                .19, .17, .15, .18, .14, .2, .16, .17, .19, .15,
                .18, .14, .21, .17, .16, .19, .15, .18, .17, .14,
                .2, .16, .18, .15, .17, .19, .14, .18, .16, .21,
                .15, .17, .19, .16, .14, .18, .17, .2, .15, .18,
                .16, .19, .17, .14, .18, .2, .16, .15, .19, .17,
                .22, .18, .16, .2, .15, .21, .17, .19, .16, .2]
hard_ann_mid_b = [.18, .16, .14, .19, .17, .21, .15, .18, .2, .16,
                  .14, .19, .17, .15, .18, .22, .16, .14, .19, .17,
                  .15, .18, .2, .16, .14, .17, .19, .15, .21, .18,
                  .16, .14, .19, .17, .15, .2, .18, .16, .14, .19,
                  .17, .21, .15, .18, .16, .14, .19, .17, .15, .2,
                  .18, .16, .14, .19, .17, .15, .21, .18, .16, .14,
                  .19, .17, .15, .2, .18, .16, .14, .19, .17, .21,
                  .15, .18, .16, .14, .19, .17, .15, .2, .18, .16,
                  .14, .19, .17, .22, .15, .18, .16, .2, .19, .23,
                  .21, .24, .19, .22, .23, .19, .22, .25, .2, .23]
hard_amb_mid = [.16, .18, .15, .17, .19, .15, .17, .16, .18, .15,
                .17, .19, .16, .15, .18, .16, .17, .15, .19, .16,
                .18, .15, .17, .16, .19, .15, .17, .18, .16, .15,
                .18, .16, .17, .15, .19, .16, .18, .15, .17, .16,
                .19, .17, .15, .18, .16, .17, .15, .18, .16, .17]
hard_amb_mid_b = [.17, .15, .18, .16, .15, .19, .16, .17, .15, .18,
                  .16, .15, .17, .19, .16, .18, .15, .17, .16, .18,
                  .15, .17, .19, .16, .15, .18, .16, .17, .15, .19,
                  .16, .18, .15, .17, .16, .15, .18, .17, .16, .19,
                  .15, .16, .18, .17, .15, .19, .17, .2, .18, .22]
hard_unann_extra = [
    (8000, .095), (8024, .052), (8028, .04), (8066, .023), (8122, .046), (8159, .046),
    (8206, .041), (8230, .033), (8262, .073), (8272, .058), (8290, .046), (8300, .082),
    (8309, .048), (8328, .054), (8343, .1), (8356, .082), (8369, .17), (8393, .28),
    (8412, .115), (8421, .082), (8440, .065), (8412, .046), (8534, .037), (8596, .12),
    (8637, .046), (8721, .058), (8730, .115), (8736, .046), (8787, 1.0), (8796, .83),
    (8805, .18), (8833, .1), (8871, .073), (8899, .041), (8908, .054), (8983, .046),
    (9058, .037), (9073, .038), (9124, .041), (9133, .054), (9174, .046), (9189, .037),
    (9251, .019), (9270, .015), (9288, .024), (9316, .016), (9363, .018), (9429, .02),
    (9438, .015), (9476, .025), (9494, .016), (9532, .03), (9573, .027), (9579, .018),
    (9616, .015), (9625, .02), (9691, .019), (9747, .017), (9775, .02), (9813, .022),
    (9850, .019), (9953, .024), (10056, .02), (10060, .016), (10131, .018), (10140, .014),
    (10187, .019), (10253, .016), (10262, .04), (10262, .03), (10328, .028), (10384, .027),
    (10431, .024), (10450, .019), (9260, .022), (9440, .024), (9700, .025), (10050, .025),
    (10571, .041), (10600, .052), (10628, .046), (10759, .085), (10777, .046), (10787, .041),
    (10862, .052), (10899, .058), (10934, .115), (11038, .048), (11057, .046), (11075, .037),
    (11123, .052), (11142, .054), (11151, .095), (11179, .037), (11236, .046), (11274, .054),
    (11283, .052), (11302, .115), (11311, .095), (11321, .037), (11340, .041), (11368, .065),
    (11406, .1), (11415, .091), (11434, .06), (11443, .041), (11547, .037), (11575, .041),
    (11594, .054), (11604, .073), (11689, .048), (11708, .038), (11764, .046), (11840, .082),
    (11849, .054), (11868, .046), (11887, .052), (11925, .041), (11949, .11), (11953, .041),
    (11981, .06), (11991, .058),
]
hard_ann_extra = [
    (8009, .356), (8062, .18), (8075, .17), (8084, .58), (8094, .4), (8103, .3),
    (8281, .74), (8300, .67), (8309, .67), (8305, .28), (8393, 1.05), (8393, 6.1),
    (8412, .74), (8459, .98), (8468, .45), (8491, 2.1), (8496, .36), (8515, .7),
    (8525, .36), (8590, .67), (8599, .6), (8699, 1.5), (8702, .8), (8787, .8),
    (8856, .23), (8899, .34), (8921, .32), (9077, .36), (9086, .36), (9096, .28),
    (9208, .18), (9218, .144), (8365, .15), (8403, 2.5), (8702, .5), (8833, .15),
    (9017, .3), (9137, .5), (8445, .5), (8460, .42), (8475, .55), (8490, .4),
    (8505, .48), (8520, .44),
    (9335, .47), (9335, .36), (9419, .32), (9504, .56), (9528, .74), (9588, .4),
    (9625, .36), (9654, .4), (9757, .3), (9775, .4), (9832, .4), (9888, .56),
    (9897, .45), (10019, .36), (10069, .56), (10075, .36), (10187, .36), (10215, .3),
    (10262, .32), (10324, 1.56), (10356, 1.5), (10333, .59), (10365, .94), (10375, .74),
    (10394, .56), (10412, .4), (10422, .5), (10431, .36), (10496, .4),
    (10641, .885), (10684, .8), (10712, 1.05), (10805, .92), (10665, .7), (10871, .226),
    (10908, .32), (10953, .67), (10981, .67), (11000, .56), (11028, .92), (11051, .8),
    (11123, .5), (11226, .5), (11258, .5), (11321, .5), (11340, .18), (11406, .18),
    (11472, .45), (11500, .28), (11523, 1.75), (11528, 1.45), (11553, 6.3), (11585, 2.1),
    (11575, .18), (11609, .22), (11642, .6), (11651, .3), (11689, .356), (11726, .26),
    (11755, .4), (11821, .18), (11855, 1.56), (11858, .85), (11868, .67), (11887, .45),
    (11915, .7), (11981, .92), (11991, 2.2), (11620, .25), (11630, .3),
]
hard_amb_extra = [
    (8009, .27), (8056, .356), (8062, .226), (8084, .74), (8094, .8), (8107, .85),
    (8109, .54), (8103, .26), (8112, .18), (8131, .356), (8141, .3), (8159, .226),
    (8169, .56), (8172, .45), (8215, .45), (8225, .43), (8238, .67), (8244, .6),
    (8281, .56), (8290, .43), (8300, .19), (8303, .22), (8313, .54), (8319, 2.9),
    (8365, .155), (8384, .37), (8390, .67), (8384, .54), (8403, 2.5), (8409, 4.5),
    (8437, 2.0), (8440, 1.65), (8421, .885), (8431, .7),
    (8388, .5), (8395, .42), (8402, .62), (8409, .38), (8416, .55), (8423, .45),
    (8430, .72), (8437, .35), (8444, .6), (8451, .48), (8458, .4), (8465, .66),
    (8472, .44), (8479, .52), (8486, .36), (8493, .58), (8500, .46), (8507, .4),
    (8514, .55), (8521, .48), (8528, .38),
    (8586, .5), (8594, .47), (8609, .56), (8624, .56), (8665, .67), (8699, .67),
    (8702, .5), (8725, .54), (8725, .28), (8796, .5), (8800, .37), (8805, .28),
    (8805, .2), (8811, .18), (8843, .155), (8843, .3), (8848, .54), (8862, .885),
    (8871, .92), (8880, .885), (8880, .5), (8899, .5), (8924, .236), (8943, .216),
    (8946, .18), (8980, .5), (8999, .47), (9021, .17), (9026, .32), (9030, .37),
    (9073, .5), (9086, .19), (9092, .17), (9129, .54), (9137, 1.33), (9148, 1.1),
    (9156, .885), (9143, .356), (9167, .67), (9171, .216), (9189, .356), (9208, .27),
    (9218, .236), (9236, .18),
    (9410, .3), (9419, .26), (9528, .56), (9729, .27), (9738, .226), (9757, .32),
    (9813, .28), (9897, .28), (10066, .356), (10131, .28), (10169, .26), (10215, .28),
    (10290, .3), (10384, .67), (10397, .6), (10412, .5), (10422, .356), (10435, .45),
    (10450, .34), (10487, .356), (10496, 1.0), (10506, .356), (10510, .32), (10525, .155),
    (10603, .34), (10643, 1.45), (10656, .63), (10665, .56), (10675, .59), (10684, .74),
    (10693, .56), (10712, .54), (10715, 4.3), (10787, .19), (10805, 1.25), (10820, 1.75),
    (10843, .63), (10824, .226), (10843, .2), (10862, .226), (10880, .2), (10899, .26),
    (10918, .3), (10937, .28),
    (10934, .226), (10949, .26), (10962, .28), (10972, .356), (10981, .216), (11000, .19),
    (10975, .5), (11028, .885), (11038, .56), (11047, .63), (11051, .47), (11057, .54),
    (11062, .32), (11066, .3), (11123, .47), (11142, .5), (11170, .47), (11175, .28),
    (11179, .4), (11194, .17), (11226, .28), (11236, .4), (11245, .3), (11258, .74),
    (11264, .32), (11274, .32), (11321, .47), (11330, .885), (11336, .74), (11345, .2),
    (11359, .26), (11381, .32), (11387, .56), (11396, .19), (11406, .56), (11462, .226),
    (11472, .356), (11500, .32), (11509, 1.1), (11519, .45), (11523, .93), (11538, .98),
    (11547, .45), (11553, 25), (11557, .45), (11566, .45), (11575, .54), (11572, .98),
    (11585, .226), (11594, .28), (11604, .3), (11613, .19), (11623, .47), (11632, .32),
    (11642, .6), (11651, .226), (11660, .2), (11670, .18), (11679, .28), (11685, .98),
    (11689, 2.2), (11689, .83), (11692, .74), (11723, .74), (11727, .18), (11736, .45),
    (11745, .47), (11755, .56), (11764, .54), (11774, .28), (11793, .155), (11802, .54),
    (11806, .43), (11811, .356), (11821, .236), (11849, .63), (11858, .6), (11868, .56),
    (11900, .4), (11906, .28), (11919, 5.8), (11975, .5), (11981, .98), (11991, 1.1),
    (12000, .54), (11991, 2.1),
]

classes = ['Unannotated', 'Annotated', 'Ambiguous']
colors = {'Unannotated': '#999999', 'Annotated': '#E69F00', 'Ambiguous': '#56B4E9'}
alphas = {'Unannotated': 0.45, 'Annotated': 0.45, 'Ambiguous': 1.0}
draw_order = ['Unannotated', 'Ambiguous', 'Annotated']


def band(sites, vals):
    return list(zip(sites, vals))


facets = [
    ('Regular annotation', {
        'Unannotated': (band(left_sites, reg_unann_left) + band(left_sites_b, reg_unann_left_b)
                        + band(right_sites, reg_unann_right) + band(right_sites_b, reg_unann_right_b)
                        + reg_unann_extra),
        'Annotated': (band(mid_sites, reg_ann_mid) + band(mid_sites_b, reg_ann_mid_b)
                      + band(mid_sites, reg_ann_mid_c) + reg_ann_extra),
        'Ambiguous': band(mid_sites, reg_amb_mid) + band(mid_sites_b, reg_amb_mid_b) + reg_amb_extra,
    }),
    ('Fuzzy annotation', {
        'Unannotated': (band(left_sites, fuz_unann_left) + band(left_sites_b, fuz_unann_left_b)
                        + band(right_sites, fuz_unann_right) + band(right_sites_b, fuz_unann_right_b)
                        + fuz_unann_extra),
        'Annotated': (band(mid_sites, fuz_ann_mid) + band(mid_sites_b, fuz_ann_mid_b)
                      + band(mid_sites, fuz_ann_mid_c) + fuz_ann_extra),
        'Ambiguous': band(mid_sites, fuz_amb_mid) + band(mid_sites_b, fuz_amb_mid_b) + fuz_amb_extra,
    }),
    ('Hard annotation', {
        'Unannotated': (band(left_sites, hard_unann_left) + band(left_sites_b, hard_unann_left_b)
                        + band(right_sites, hard_unann_right) + band(right_sites_b, hard_unann_right_b)
                        + hard_unann_extra),
        'Annotated': band(mid_sites, hard_ann_mid) + band(mid_sites_b, hard_ann_mid_b) + hard_ann_extra,
        'Ambiguous': (band(mid_sites[1::2], hard_amb_mid) + band(mid_sites[0::2], hard_amb_mid_b)
                      + hard_amb_extra),
    }),
]

# --- layout (pixel rows of each strip / panel) ---
W_PX, H_PX = 918, 524
LEFT, RIGHT = 43.3, 825
rows = [(5, 20.7, 165.7), (170, 186, 331.7), (335.7, 351.7, 496.7)]

fig = plt.figure(figsize=(W_PX / 100, H_PX / 100), dpi=100)


def fbox(x0, y0, x1, y1):
    return [x0 / W_PX, 1 - y1 / H_PX, (x1 - x0) / W_PX, (y1 - y0) / H_PX]


for i, ((title, data), (s_top, p_top, p_bot)) in enumerate(zip(facets, rows)):
    sax = fig.add_axes(fbox(LEFT, s_top, RIGHT, p_top))
    sax.set_facecolor('#D9D9D9')
    sax.set_xticks([])
    sax.set_yticks([])
    for sp in sax.spines.values():
        sp.set_visible(False)
    sax.text(0.5, 0.5, title, ha='center', va='center', fontsize=5.8,
             color='#1A1A1A', transform=sax.transAxes)

    ax = fig.add_axes(fbox(LEFT, p_top, RIGHT, p_bot))
    ax.set_facecolor('#EBEBEB')
    for sp in ax.spines.values():
        sp.set_visible(False)
    ax.set_yscale('log')
    ax.set_xlim(7800, 12200)
    ax.set_ylim(10 ** -2.23, 10 ** 2.055)
    ax.set_yticks([0.01, 0.1, 1, 10, 100])
    ax.set_yticklabels(['0.01', '0.1', '1', '10', '100'])
    ax.yaxis.set_minor_locator(FixedLocator([10 ** -1.5, 10 ** -0.5, 10 ** 0.5, 10 ** 1.5]))
    ax.yaxis.set_minor_formatter(NullFormatter())
    ax.set_xticks([8000, 9000, 10000, 11000, 12000])
    ax.set_xticklabels(['8000', '9000', '10000', '11000', '12000'])
    ax.xaxis.set_minor_locator(FixedLocator([8500, 9500, 10500, 11500]))
    ax.set_axisbelow(True)
    ax.grid(which='major', color='white', linewidth=0.9)
    ax.grid(which='minor', color='white', linewidth=0.45)
    ax.tick_params(which='major', length=2, width=0.6, color='#333333',
                   labelsize=6.6, labelcolor='#4D4D4D', pad=1.2)
    ax.tick_params(which='minor', length=0)
    if i < 2:
        ax.tick_params(axis='x', which='both', bottom=False, labelbottom=False)

    for cls in draw_order:
        pts = data[cls]
        xs = [p[0] for p in pts]
        ys = [p[1] for p in pts]
        ax.scatter(xs, ys, s=17, color=colors[cls], alpha=alphas[cls],
                   linewidths=0, zorder=2)

fig.text(15 / W_PX, 1 - 257 / H_PX, 'Mean posterior variance', rotation=90,
         ha='center', va='center', fontsize=7.2)
fig.text(434 / W_PX, 1 - 514 / H_PX, 'Relative position',
         ha='center', va='center', fontsize=7.2)

# --- legend ---
lax = fig.add_axes(fbox(833, 222, 918, 292))
lax.set_xlim(833, 918)
lax.set_ylim(292, 222)
lax.axis('off')
lax.text(839, 232.3, 'Fuzzy annotation', ha='left', va='center', fontsize=7.2)
for k, cls in enumerate(classes):
    yc = 249.5 + k * 15.8
    lax.add_patch(Rectangle((840, yc - 7.9), 15.5, 15.8, facecolor='#F2F2F2',
                            edgecolor='none'))
    lax.scatter([847.7], [yc], s=6, color=colors[cls], linewidths=0)
    lax.text(860, yc, cls, ha='left', va='center', fontsize=5.8, color='#1A1A1A')

fig.savefig('out.png', dpi=100)
